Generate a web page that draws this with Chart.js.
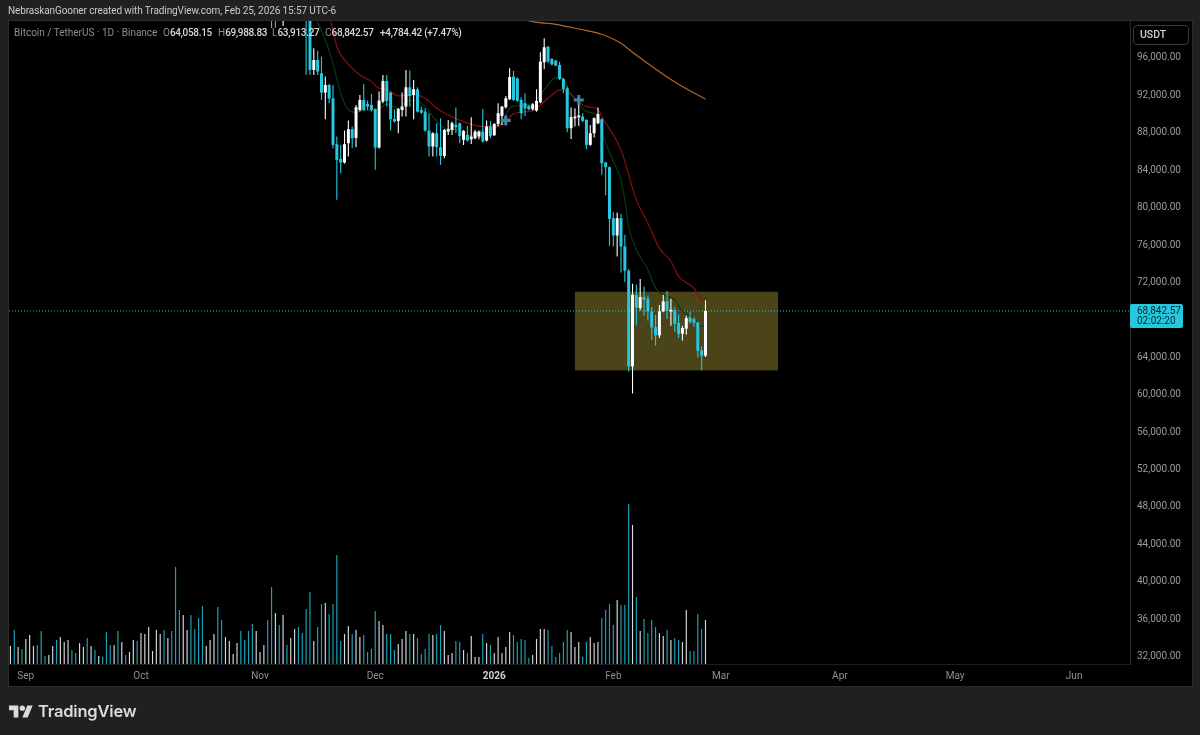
<!DOCTYPE html>
<html>
<head>
<meta charset="utf-8">
<title>BTCUSDT 1D</title>
<script src="https://cdn.jsdelivr.net/npm/chart.js@4/dist/chart.umd.min.js"></script>
<style>
  html, body { margin: 0; padding: 0; width: 1200px; height: 735px; overflow: hidden; background: #202020; }
  body { position: relative; font-family: Roboto, "Noto Sans", sans-serif; }
  #panel { position: absolute; left: 8px; top: 20px; width: 1183px; height: 665px; background: #000; border: 1px solid #2c2c2c; }
  canvas { position: absolute; left: 0; top: 0; }
  .txt { position: absolute; white-space: nowrap; }
  #byline { left: 8px; top: 4px; font-size: 10px; letter-spacing: -0.1px; line-height: 14px; color: #c9c9c9; }
  .leg { top: 26px; font-size: 10px; line-height: 14px; color: #8f8f8f; }
  .leg b { font-weight: 500; color: #d8d8d8; letter-spacing: -0.3px; }
  #usdt { left: 1133px; top: 25px; width: 56px; height: 20px; box-sizing: border-box; border: 1px solid #3a3a3a; border-radius: 4px; font-size: 10.5px; font-weight: 500; line-height: 18px; color: #d0d0d0; padding-left: 6px; }
  #logo { position: absolute; left: 9px; top: 703px; }
  #brand { left: 38px; top: 699px; font-family: "Inter", "Noto Sans", sans-serif; font-size: 16.5px; font-weight: 600; line-height: 24px; color: #dbdbdb; letter-spacing: -0.2px; }
</style>
</head>
<body>
<div id="panel"></div>
<canvas id="chart" width="1200" height="735"></canvas>
<div class="txt" id="byline">NebraskanGooner created with TradingView.com, Feb 25, 2026 15:57 UTC-6</div>
<div class="txt leg" style="left:14px">Bitcoin / TetherUS · 1D · Binance</div>
<div class="txt leg" style="left:163px">O<b>64,058.15</b></div>
<div class="txt leg" style="left:218px">H<b>69,988.83</b></div>
<div class="txt leg" style="left:272px">L<b>63,913.27</b></div>
<div class="txt leg" style="left:325px">C<b>68,842.57</b></div>
<div class="txt leg" style="left:380px"><b>+4,784.42 (+7.47%)</b></div>
<div class="txt" id="usdt">USDT</div>
<svg id="logo" width="24" height="17" viewBox="0 3 36 20"><path fill="#dbdbdb" d="M14 22H7V11H0V4h14v18zM28 22h-8l7.5-18h8L28 22z"/><circle fill="#dbdbdb" cx="20" cy="8" r="4"/></svg>
<div class="txt" id="brand">TradingView</div>

<script>
// days are counted from Sep 1 2025 (day 0)
const monthDays = [0, 30, 61, 91, 122, 153, 181, 212, 242, 273];
const monthLabels = ["Sep", "Oct", "Nov", "Dec", "2026", "Feb", "Mar", "Apr", "May", "Jun"];
const priceTicks = [32000, 36000, 40000, 44000, 48000, 52000, 56000, 60000, 64000, 68000, 72000, 76000, 80000, 84000, 88000, 92000, 96000];

// volume starts Aug 28 (day -4), one value per day
const firstVolumeDay = -4;
const volumes = [
  18, 34, 17, 15, 25, 29, 18, 19, 33, 8,
  9, 18, 24, 27, 22, 24, 14, 11, 21, 17,
  26, 18, 14, 8, 7, 32, 19, 19, 33, 22,
  9, 12, 24, 23, 31, 30, 37, 13, 34, 30,
  34, 26, 33, 97, 54, 49, 34, 49, 35, 46,
  58, 18, 24, 30, 57, 44, 27, 23, 10, 21,
  33, 24, 33, 40, 33, 12, 19, 44, 77, 51,
  39, 49, 19, 26, 35, 37, 31, 55, 72, 23,
  37, 60, 61, 50, 60, 109, 23, 30, 38, 30,
  34, 27, 29, 12, 15, 53, 43, 39, 30, 30,
  14, 20, 25, 33, 30, 30, 26, 10, 15, 30,
  29, 30, 39, 33, 9, 11, 23, 22, 14, 11,
  28, 7, 7, 30, 21, 19, 11, 27, 11, 17,
  32, 29, 22, 25, 24, 6, 9, 25, 35, 35,
  34, 18, 7, 11, 22, 34, 32, 17, 22, 7,
  22, 27, 21, 22, 46, 54, 60, 39, 64, 59,
  59, 160, 139, 67, 33, 45, 31, 44, 37, 31,
  28, 34, 24, 26, 24, 22, 54, 13, 13, 50,
  35, 44
];
const volumeUp = [
  1, 0, 1, 0, 1, 1, 1, 0, 0, 0,
  1, 1, 0, 1, 1, 1, 0, 0, 1, 1,
  0, 1, 0, 1, 0, 0, 0, 1, 0, 1,
  0, 1, 1, 0, 1, 1, 1, 1, 1, 1,
  0, 1, 0, 0, 0, 1, 1, 0, 0, 0,
  0, 1, 1, 1, 0, 0, 1, 1, 1, 1,
  0, 0, 0, 0, 1, 1, 1, 0, 0, 1,
  0, 1, 0, 1, 1, 0, 0, 0, 0, 1,
  0, 0, 1, 0, 0, 0, 0, 1, 1, 0,
  1, 1, 0, 0, 0, 0, 1, 1, 0, 0,
  0, 1, 1, 1, 0, 1, 0, 0, 0, 0,
  1, 0, 0, 1, 1, 1, 0, 0, 1, 0,
  1, 1, 1, 0, 1, 0, 1, 1, 1, 1,
  1, 0, 0, 0, 0, 0, 1, 1, 1, 1,
  0, 0, 0, 0, 0, 0, 1, 1, 1, 0,
  0, 1, 1, 1, 0, 0, 0, 0, 1, 0,
  0, 0, 1, 0, 1, 0, 0, 0, 0, 1,
  1, 0, 1, 0, 0, 1, 1, 0, 0, 0,
  0, 1
];

// candles start at day 64, everything earlier sits above the visible range
const firstCandleDay = 64;
const opens = [
  103000, 103000, null, 101500, null, null, null, null, null, 101500,
  100700, 94611, 95680, 94255, 92190, 93009, 91584, 86670, 85103, 84712,
  86777, 88272, 87347, 90338, 91406, 90979, 90872, 90409, 86314, 91228,
  93436, 92190, 89377, 89163, 90338, 90694, 92759, 91941, 92546, 90338,
  90160, 88130, 86421, 87845, 86350, 85424, 88023, 88201, 88736, 88914,
  87133, 87667, 87204, 87311, 87489, 88023, 87062, 88557, 87632, 88843,
  89697, 90623, 91478, 93899, 93721, 91406, 91050, 90765, 90409, 90267,
  91157, 95430, 97104, 95786, 95608, 95145, 93650, 92653, 88379, 89448,
  89555, 89626, 89270, 86599, 87845, 88914, 89341, 84712, 84213, 78763,
  76912, 78763, 75737, 73137, 62917, 70573, 69149, 70324, 70146, 68793,
  67119, 66229, 68793, 69861, 68793, 68900, 67546, 66407, 66941, 68152,
  67974, 67617, 64626, 64058.15
];
const highs = [
  104000, 104000, null, 103000, null, null, null, null, null, 102200,
  101300, 96926, 96677, 96036, 93899, 93100, 93009, 87489, 86599, 88130,
  89199, 88557, 90872, 91941, 93116, 91335, 92047, 90500, 92297, 94077,
  94077, 92300, 90409, 90550, 92190, 94611, 94540, 93543, 92759, 90694,
  90516, 89982, 87950, 88914, 89448, 88300, 89270, 89092, 90587, 89000,
  88200, 88629, 89555, 88201, 88130, 90445, 89199, 89163, 88914, 91050,
  90765, 91834, 94789, 94504, 93800, 91691, 92118, 90872, 91050, 92546,
  96498, 97994, 97175, 95857, 95680, 95501, 93750, 92831, 90587, 90516,
  91763, 89982, 89350, 88736, 89555, 90587, 89450, 84800, 84300, 79404,
  79369, 79226, 76983, 73351, 71748, 71641, 72247, 71463, 70502, 69255,
  68401, 69469, 70573, 70965, 70146, 69255, 68472, 67261, 68330, 68757,
  68187, 67689, 65054, 69988.83
];
const lows = [
  99098, 99130, null, 99312, null, null, null, null, null, 94100,
  94077, 94077, 94077, 91406, 89341, 91050, 86243, 80723, 83572, 84600,
  85353, 86243, 86350, 90160, 90231, 90338, 90160, 83928, 86200, 91050,
  90694, 88130, 88985, 87845, 89626, 89626, 90694, 89341, 90050, 89911,
  88000, 85353, 85353, 85353, 84462, 85174, 87667, 87667, 87845, 86777,
  86599, 86950, 86706, 87204, 87204, 86848, 86950, 87311, 87560, 88557,
  88736, 90500, 91406, 91300, 91200, 89341, 89697, 90300, 90267, 90150,
  91050, 94682, 95394, 95100, 95000, 93550, 92118, 87952, 87240, 88557,
  88629, 89050, 86136, 86500, 87382, 88800, 83394, 81222, 75808, 75737,
  74668, 72959, 71926, 62347, 60018, 67297, 68900, 68365, 67831, 65766,
  65160, 65944, 68700, 67974, 67261, 66620, 65944, 65694, 66300, 67475,
  67190, 63878, 62490, 63913.27
];
const closes = [
  102000, 102500, null, 102500, null, null, null, null, null, 100800,
  94611, 95680, 94433, 92190, 93009, 91549, 86599, 84996, 84712, 86670,
  88272, 87311, 90623, 91406, 90338, 90694, 90338, 86314, 91335, 93436,
  91299, 89341, 89092, 90445, 90694, 92759, 91834, 92546, 90160, 90053,
  88130, 86421, 87845, 86350, 85424, 88201, 88272, 88914, 88486, 87560,
  88094, 87062, 87489, 88023, 88023, 86955, 88557, 87560, 88843, 89982,
  90694, 91584, 93863, 91406, 91299, 89982, 90516, 90409, 90943, 91299,
  95501, 97033, 95501, 95217, 95074, 93650, 92582, 88379, 89555, 89626,
  89733, 89163, 86599, 87845, 89448, 89911, 84640, 84213, 78692, 76912,
  78763, 75737, 73137, 62917, 70573, 69220, 70324, 70039, 68793, 67083,
  66229, 68793, 69861, 68864, 68971, 67475, 66371, 67012, 68080, 67653,
  67582, 64591, 64058.15, 68842.57
];

const redDays = [79, 80, 81, 83, 85, 87, 90, 92, 94, 97, 101, 104, 107, 110, 114, 119, 124, 127, 132, 134, 137, 139, 140, 143, 146, 149, 150, 155, 159, 162, 165, 168, 170, 174, 176, 177];
const redValues = [100400, 98884, 97104, 95680, 94789, 94077, 93365, 92653, 92546, 91834, 91941, 91584, 90516, 89804, 89092, 88557, 88735, 89911, 90267, 90872, 91940, 92475, 92475, 91584, 90694, 90409, 89626, 86065, 80722, 78229, 75559, 74134, 72532, 71285, 70039, 69968];
const greenDays = [76, 78, 80, 82, 84, 86, 88, 90, 92, 94, 97, 99, 101, 104, 106, 109, 111, 114, 116, 119, 122, 124, 126, 128, 132, 135, 138, 140, 141, 143, 146, 149, 150, 153, 155, 156, 157, 159, 162, 164, 166, 169, 171, 174, 176, 177];
const greenValues = [99775, 97816, 95323, 92118, 90338, 90053, 90338, 90267, 90516, 90943, 90516, 91228, 91406, 90694, 89626, 88379, 88272, 88023, 87560, 88201, 88379, 88913, 90516, 90801, 91050, 92475, 93792, 93721, 92653, 91584, 90160, 89697, 88023, 84818, 82860, 80722, 77873, 75381, 73244, 71285, 70573, 70039, 68793, 68080, 67190, 67370];
const orangeDays = [129, 132, 138, 144, 150, 155, 158, 165, 170, 177];
const orangeValues = [100100, 99771, 99494, 98992, 98425, 97463, 96502, 94428, 93082, 91480];

// "+" marks
const crossDays = [125, 144];
const crossValues = [89199, 91406];

const lastPrice = 68842.57;
const countdown = "02:02:20";
const zoneDays = [143, 195.9];
const zonePrices = [62484, 70893];

const xMin = -4.375;
const xMax = 287.55;
const yMin = 31092;
const yMax = 99846;

const CYAN = "#26c8e0";
const WHITE = "#ffffff";
const FONT = "Roboto, 'Noto Sans', sans-serif";

const candleDay = (k) => firstCandleDay + k;
const candleColor = (k) => (closes[k] >= opens[k] ? WHITE : CYAN);

const wickData = [];
const bodyData = [];
const wickColors = [];
const bodyColors = [];
closes.forEach((close, k) => {
  if (close === null) return;
  wickData.push({ x: candleDay(k), y: [lows[k], highs[k]] });
  bodyData.push({ x: candleDay(k), y: [opens[k], close] });
  wickColors.push(candleColor(k));
  bodyColors.push(candleColor(k));
});

const pairs = (xs, ys) => xs.map((x, k) => ({ x: x, y: ys[k] }));
const isYearTick = (ctx) => ctx.tick && monthLabels[monthDays.indexOf(ctx.tick.value)] === "2026";

// box behind the candles
const zonePlugin = {
  id: "zone",
  beforeDatasetsDraw(chart) {
    const { ctx, scales } = chart;
    const left = scales.x.getPixelForValue(zoneDays[0]);
    const right = scales.x.getPixelForValue(zoneDays[1]);
    const top = scales.y.getPixelForValue(zonePrices[1]);
    const bottom = scales.y.getPixelForValue(zonePrices[0]);
    ctx.save();
    ctx.fillStyle = "#4a4418";
    ctx.fillRect(left, top, right - left, bottom - top);
    ctx.restore();
  },
};

// last price tag on the axis
const priceTagPlugin = {
  id: "priceTag",
  afterDraw(chart) {
    const { ctx, scales, chartArea } = chart;
    const y = scales.y.getPixelForValue(lastPrice);
    ctx.save();
    ctx.fillStyle = CYAN;
    ctx.beginPath();
    ctx.roundRect(chartArea.right, y - 7, 53, 24, 2);
    ctx.fill();
    ctx.fillStyle = "#04262c";
    ctx.font = "10px " + FONT;
    ctx.textBaseline = "middle";
    ctx.fillText(lastPrice.toLocaleString("en-US", { minimumFractionDigits: 2 }), chartArea.right + 7, y + 0.5);
    ctx.fillText(countdown, chartArea.right + 7, y + 11);
    ctx.restore();
  },
};

new Chart(document.getElementById("chart"), {
  type: "bar",
  plugins: [zonePlugin, priceTagPlugin],
  data: {
    datasets: [
      {
        type: "line",
        data: pairs(crossDays, crossValues),
        showLine: false,
        pointStyle: "cross",
        pointRadius: 5,
        pointBorderWidth: 3,
        pointBorderColor: "#3b86ab",
        order: 0,
      },
      {
        data: bodyData,
        backgroundColor: bodyColors,
        barThickness: 3,
        grouped: false,
        order: 1,
      },
      {
        data: wickData,
        backgroundColor: wickColors,
        barThickness: 1.1,
        grouped: false,
        order: 2,
      },
      {
        type: "line",
        data: pairs(redDays, redValues),
        borderColor: "#861010",
        borderWidth: 1.2,
        pointRadius: 0,
        cubicInterpolationMode: "monotone",
        order: 3,
      },
      {
        type: "line",
        data: pairs(greenDays, greenValues),
        borderColor: "#0b3d10",
        borderWidth: 1.1,
        pointRadius: 0,
        cubicInterpolationMode: "monotone",
        order: 3,
      },
      {
        type: "line",
        data: pairs(orangeDays, orangeValues),
        borderColor: "#b5651d",
        borderWidth: 1.2,
        pointRadius: 0,
        cubicInterpolationMode: "monotone",
        order: 3,
      },
      {
        type: "line",
        data: [{ x: xMin, y: lastPrice }, { x: xMax, y: lastPrice }],
        borderColor: "#26c8e0",
        borderWidth: 1,
        borderDash: [1, 2],
        pointRadius: 0,
        order: 4,
      },
      {
        data: volumes.map((v, k) => ({ x: firstVolumeDay + k, y: v })),
        yAxisID: "yVol",
        backgroundColor: volumeUp.map((up) => (up ? "rgba(255, 255, 255, 0.85)" : "#1aa4ba")),
        barThickness: 1.15,
        grouped: false,
        order: 5,
      },
    ],
  },
  options: {
    responsive: false,
    animation: false,
    devicePixelRatio: 1,
    inflateAmount: 0,
    layout: { padding: { left: 9, right: 8, top: 21, bottom: 49 } },
    plugins: { legend: { display: false }, tooltip: { enabled: false } },
    scales: {
      x: {
        type: "linear",
        offset: false,
        min: xMin,
        max: xMax,
        grid: { display: false, drawTicks: false },
        border: { color: "#1e1e1e" },
        afterBuildTicks: (axis) => {
          axis.ticks = monthDays.map((d) => ({ value: d }));
        },
        afterFit: (axis) => {
          axis.height = 22;
        },
        ticks: {
          autoSkip: false,
          maxRotation: 0,
          padding: 6,
          color: (ctx) => (isYearTick(ctx) ? "#d0d0d0" : "#8f8f8f"),
          font: (ctx) => ({ family: FONT, size: 10, weight: isYearTick(ctx) ? "bold" : "normal" }),
          callback: (value) => monthLabels[monthDays.indexOf(value)],
        },
      },
      y: {
        position: "right",
        min: yMin,
        max: yMax,
        grid: { display: false, drawTicks: false },
        border: { color: "#2c2c2c" },
        afterBuildTicks: (axis) => {
          axis.ticks = priceTicks.map((p) => ({ value: p }));
        },
        afterFit: (axis) => {
          axis.width = 62;
        },
        ticks: {
          padding: 7,
          labelOffset: 1,
          color: "#9a9a9a",
          font: { family: FONT, size: 10 },
          callback: (value) => value.toLocaleString("en-US", { minimumFractionDigits: 2 }),
        },
      },
      yVol: {
        display: false,
        position: "right",
        min: 0,
        max: 643,
      },
    },
  },
});
</script>
</body>
</html>
